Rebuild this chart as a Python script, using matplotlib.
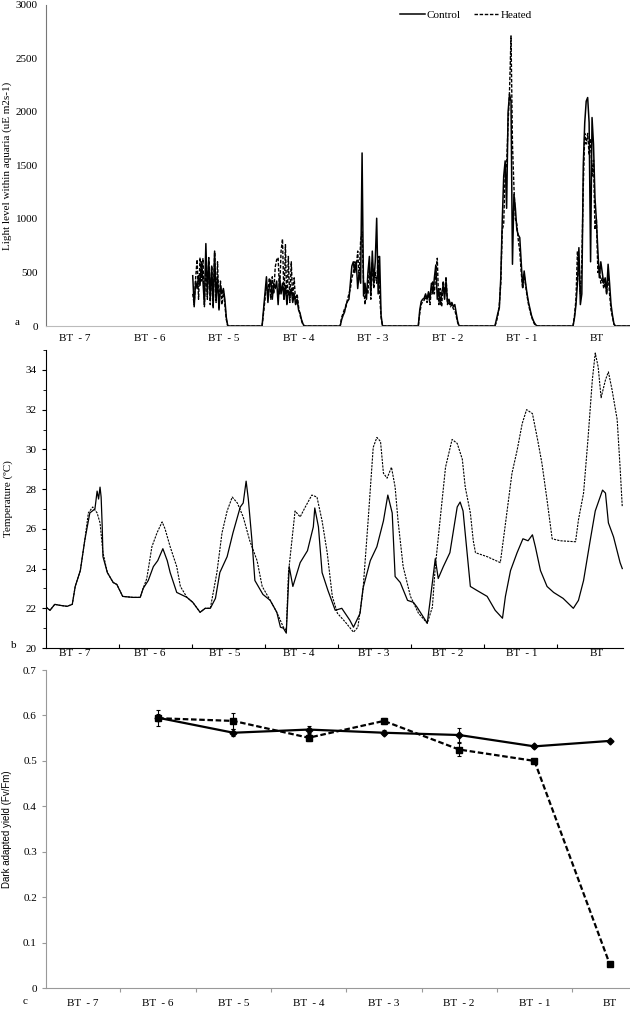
import matplotlib
matplotlib.use("Agg")
import matplotlib.pyplot as plt
import numpy as np

plt.rcParams['font.family'] = ['Liberation Serif', 'DejaVu Serif']

# day labels shared by all panels
days = ['BT  - 7', 'BT  - 6', 'BT  - 5', 'BT  - 4', 'BT  - 3', 'BT  - 2', 'BT  - 1', 'BT']

# ---- panel a: light (time in days from start of record) ----
light_t_bt5 = [2.01, 2.03, 2.05, 2.07, 2.09, 2.11, 2.13, 2.15, 2.17, 2.19, 2.21, 2.23, 2.25, 2.27, 2.29,
               2.31, 2.33, 2.35, 2.37, 2.39, 2.41, 2.43, 2.45, 2.47, 2.49]
light_c_bt5 = [470, 180, 420, 350, 470, 380, 600, 420, 200, 770, 300, 620, 250, 560, 180,
               700, 250, 450, 150, 380, 300, 350, 250, 80, 0]
light_h_bt5 = [300, 200, 450, 620, 250, 640, 420, 630, 180, 600, 250, 640, 200, 560, 170,
               690, 220, 600, 160, 420, 200, 330, 200, 60, 0]

light_t_bt4 = [2.96, 2.98, 3.00, 3.02, 3.04, 3.06, 3.08, 3.10, 3.12, 3.14, 3.16, 3.18, 3.20, 3.22, 3.24,
               3.26, 3.28, 3.30, 3.32, 3.34, 3.36, 3.38, 3.40, 3.42, 3.44, 3.46, 3.48, 3.50, 3.52, 3.54]
light_c_bt4 = [0, 150, 300, 460, 220, 380, 430, 250, 400, 350, 420, 200, 460, 300, 400,
               250, 380, 200, 330, 280, 350, 220, 300, 200, 250, 150, 120, 60, 20, 0]
light_h_bt4 = [0, 120, 250, 380, 300, 450, 250, 460, 300, 550, 620, 640, 300, 700, 813,
               250, 760, 200, 650, 220, 600, 250, 450, 200, 300, 180, 100, 50, 10, 0]

light_t_bt3 = [4.03, 4.05, 4.07, 4.09, 4.11, 4.13, 4.15, 4.17, 4.19, 4.21, 4.23, 4.25, 4.27, 4.29, 4.31,
               4.33, 4.35, 4.37, 4.39, 4.41, 4.43, 4.45, 4.47, 4.49, 4.51, 4.53, 4.55, 4.57, 4.59, 4.61]
light_c_bt3 = [0, 60, 100, 130, 200, 230, 250, 400, 560, 600, 500, 600, 350, 500, 400,
               1617, 280, 400, 250, 500, 650, 300, 700, 400, 600, 1007, 300, 650, 100, 0]
light_h_bt3 = [0, 80, 120, 160, 180, 250, 300, 350, 450, 500, 600, 550, 700, 450, 800,
               880, 400, 200, 350, 300, 550, 250, 600, 350, 500, 400, 650, 300, 80, 0]

light_t_bt2 = [5.10, 5.12, 5.14, 5.16, 5.18, 5.20, 5.22, 5.24, 5.26, 5.28, 5.30, 5.32, 5.34, 5.36, 5.38,
               5.40, 5.42, 5.44, 5.46, 5.48, 5.50, 5.52, 5.54, 5.56, 5.58, 5.60, 5.62, 5.64, 5.66]
light_c_bt2 = [0, 150, 230, 250, 260, 300, 250, 320, 250, 400, 300, 450, 570, 250, 350,
               200, 300, 380, 250, 420, 220, 250, 200, 220, 180, 200, 120, 40, 0]
light_h_bt2 = [0, 120, 200, 230, 240, 280, 220, 300, 200, 350, 420, 300, 500, 633, 200,
               350, 180, 420, 300, 461, 200, 230, 180, 200, 160, 150, 90, 30, 0]

light_t_bt1 = [6.15, 6.17, 6.19, 6.21, 6.23, 6.25, 6.27, 6.29, 6.31, 6.33, 6.35, 6.37, 6.39, 6.41, 6.43,
               6.45, 6.47, 6.49, 6.51, 6.53, 6.55, 6.57, 6.59, 6.61, 6.63, 6.65, 6.67, 6.69, 6.71, 6.73]
light_c_bt1 = [0, 60, 120, 170, 450, 980, 1400, 1543, 1100, 2000, 2166, 2100, 577, 1231, 1100,
               900, 850, 826, 600, 358, 514, 400, 300, 220, 160, 100, 60, 30, 10, 0]
light_h_bt1 = [0, 40, 100, 200, 400, 900, 950, 1450, 1500, 1900, 2200, 2711, 1700, 1300, 1000,
               950, 800, 700, 500, 350, 480, 380, 280, 200, 140, 90, 50, 20, 5, 0]

light_t_bt0 = [7.22, 7.24, 7.26, 7.28, 7.30, 7.32, 7.34, 7.36, 7.38, 7.40, 7.42, 7.44, 7.46, 7.48, 7.50,
               7.52, 7.54, 7.56, 7.58, 7.60, 7.62, 7.64, 7.66, 7.68, 7.70, 7.72, 7.74, 7.76, 7.78, 7.80]
light_c_bt0 = [0, 80, 200, 400, 732, 200, 300, 1500, 1900, 2100, 2135, 1900, 600, 1948, 1700,
               1200, 982, 700, 452, 600, 500, 400, 450, 300, 577, 400, 200, 100, 20, 0]
light_h_bt0 = [0, 100, 250, 700, 500, 300, 600, 1300, 1800, 1700, 1800, 1600, 1750, 1400, 1550,
               900, 1000, 500, 550, 400, 450, 350, 420, 300, 480, 300, 150, 80, 15, 0]

light_t_end = [8.0]
light_v_end = [0]

# ---- panel b: temperature ----
temp_t_ctrl = [0.00, 0.055, 0.12, 0.19, 0.29, 0.36, 0.40, 0.47, 0.53, 0.60, 0.67, 0.70, 0.72, 0.74, 0.755,
               0.77, 0.78, 0.84, 0.92, 0.97, 1.05, 1.19, 1.29, 1.33, 1.40, 1.47, 1.53, 1.60, 1.66, 1.70,
               1.79, 1.93, 2.01, 2.11, 2.18, 2.25, 2.32, 2.38, 2.48, 2.56, 2.66, 2.70, 2.74, 2.77, 2.82,
               2.86, 2.97, 3.07, 3.16, 3.21, 3.25, 3.29, 3.33, 3.38, 3.48, 3.58, 3.66, 3.68, 3.73, 3.78,
               3.86, 3.96, 4.05, 4.16, 4.21, 4.30, 4.34, 4.44, 4.53, 4.62, 4.68, 4.74, 4.78, 4.85, 4.95,
               5.03, 5.08, 5.22, 5.26, 5.33, 5.37, 5.44, 5.53, 5.63, 5.67, 5.71, 5.81, 5.90, 6.04, 6.15,
               6.25, 6.29, 6.36, 6.45, 6.53, 6.60, 6.66, 6.70, 6.77, 6.86, 6.95, 7.08, 7.22, 7.29, 7.36,
               7.45, 7.52, 7.62, 7.66, 7.70, 7.77, 7.86, 7.89]
temp_ctrl = [22.06, 21.9, 22.2, 22.15, 22.1, 22.2, 23.1, 23.9, 25.4, 26.8, 27.0, 27.9, 27.5, 28.1, 27.6,
             26.1, 24.6, 23.8, 23.3, 23.2, 22.6, 22.55, 22.55, 23.0, 23.4, 24.1, 24.4, 25.0, 24.4, 23.8,
             22.8, 22.55, 22.3, 21.8, 22.0, 22.0, 22.5, 23.8, 24.6, 25.8, 27.1, 27.3, 28.4, 27.5, 25.4,
             23.4, 22.7, 22.4, 21.8, 21.05, 21.0, 20.75, 24.1, 23.1, 24.3, 24.9, 26.1, 27.05, 26.1, 23.8,
             22.9, 21.9, 22.0, 21.4, 21.05, 21.75, 23.0, 24.4, 25.1, 26.4, 27.7, 26.8, 23.6, 23.3, 22.4,
             22.3, 22.06, 21.25, 22.4, 24.5, 23.5, 24.1, 24.8, 27.1, 27.35, 26.9, 23.1, 22.9, 22.6, 21.9,
             21.5, 22.6, 23.9, 24.8, 25.5, 25.4, 25.7, 25.1, 23.9, 23.1, 22.8, 22.5, 22.0, 22.4, 23.4,
             25.4, 26.9, 27.95, 27.8, 26.3, 25.6, 24.3, 24.0]

temp_t_heat = [0.00, 0.055, 0.12, 0.19, 0.29, 0.36, 0.40, 0.47, 0.53, 0.58, 0.64, 0.70, 0.74, 0.78, 0.84,
               0.92, 0.97, 1.05, 1.19, 1.29, 1.33, 1.38, 1.45, 1.52, 1.59, 1.63, 1.70, 1.79, 1.84, 1.93,
               2.01, 2.11, 2.18, 2.25, 2.34, 2.41, 2.48, 2.55, 2.62, 2.70, 2.79, 2.89, 2.96, 3.07, 3.16,
               3.25, 3.29, 3.32, 3.41, 3.48, 3.55, 3.64, 3.71, 3.78, 3.85, 3.92, 3.99, 4.10, 4.21, 4.27,
               4.34, 4.41, 4.48, 4.53, 4.58, 4.62, 4.67, 4.73, 4.78, 4.82, 4.89, 4.99, 5.10, 5.22, 5.29,
               5.33, 5.40, 5.47, 5.56, 5.63, 5.70, 5.74, 5.81, 5.85, 5.88, 6.04, 6.22, 6.26, 6.32, 6.38,
               6.45, 6.52, 6.58, 6.66, 6.73, 6.79, 6.86, 6.93, 7.04, 7.25, 7.29, 7.36, 7.42, 7.48, 7.52,
               7.56, 7.60, 7.66, 7.70, 7.75, 7.82, 7.86, 7.89]
temp_heat = [22.06, 21.9, 22.2, 22.15, 22.1, 22.2, 23.1, 23.9, 25.4, 26.8, 27.1, 26.8, 26.3, 24.8, 23.8,
             23.3, 23.2, 22.6, 22.55, 22.55, 23.0, 23.5, 25.1, 25.8, 26.35, 26.0, 25.1, 24.1, 23.1, 22.55,
             22.3, 21.8, 22.0, 22.0, 23.8, 25.8, 26.9, 27.6, 27.3, 26.6, 25.4, 24.4, 23.1, 22.4, 21.8,
             21.05, 20.9, 23.8, 26.9, 26.6, 27.1, 27.7, 27.6, 26.4, 24.8, 22.6, 21.75, 21.3, 20.8, 21.05,
             22.9, 26.4, 30.1, 30.6, 30.4, 28.8, 28.55, 29.1, 28.1, 26.4, 24.1, 22.6, 21.75, 21.25, 22.06,
             24.1, 26.6, 29.1, 30.5, 30.3, 29.5, 28.1, 26.8, 25.4, 24.8, 24.6, 24.3, 25.4, 27.1, 28.8,
             29.95, 31.3, 32.0, 31.8, 30.5, 29.3, 27.45, 25.5, 25.4, 25.35, 26.45, 27.8, 30.5, 33.5, 34.85,
             34.15, 32.6, 33.5, 33.9, 33.0, 31.5, 29.1, 27.1]

# ---- panel c: dark adapted yield (BT-6 .. BT) ----
yield_ctrl = [0.595, 0.562, 0.569, 0.562, 0.557, 0.532, 0.544]
yield_ctrl_err = [0.008, 0.008, 0.008, 0.006, 0.015, 0.003, 0.002]
yield_heat = [0.594, 0.588, 0.551, 0.588, 0.525, 0.500, 0.053]
yield_heat_err = [0.018, 0.018, 0.008, 0.006, 0.015, 0.003, 0.003]

fig = plt.figure(figsize=(6.3, 10.14), dpi=100)
fs = 8
lbl_pos = [0.4 + 1.02 * i for i in range(8)]

# panel a
axa = fig.add_axes([0.073, 0.6785, 0.927, 0.3166])
lt = light_t_bt5 + light_t_bt4 + light_t_bt3 + light_t_bt2 + light_t_bt1 + light_t_bt0 + light_t_end
lc = light_c_bt5 + light_c_bt4 + light_c_bt3 + light_c_bt2 + light_c_bt1 + light_c_bt0 + light_v_end
lh = light_h_bt5 + light_h_bt4 + light_h_bt3 + light_h_bt2 + light_h_bt1 + light_h_bt0 + light_v_end
axa.plot(lt, lc, color='black', lw=1.1, label='Control')
axa.plot(lt, lh, color='black', lw=1.0, ls=(0, (2.5, 1.2)), label='Heated')
axa.set_xlim(0, 8.0)
axa.set_ylim(0, 3000)
axa.set_yticks(np.arange(0, 3001, 500))
axa.set_xticks(lbl_pos)
axa.set_xticklabels(days, fontsize=fs)
axa.tick_params(axis='x', length=0, pad=6)
axa.tick_params(axis='y', length=0, labelsize=fs, pad=6)
for s in ['top', 'right']:
    axa.spines[s].set_visible(False)
axa.spines['left'].set_color('#777777')
axa.spines['bottom'].set_color('#bbbbbb')
axa.set_ylabel('Light level within aquaria (uE m2s-1)', fontsize=fs)
axa.yaxis.set_label_coords(-0.058, 0.5)
fig.legend(loc='upper center', bbox_to_anchor=(0.74, 1.0), ncol=2, frameon=False,
           fontsize=fs, handlelength=2.2, columnspacing=1.2, handletextpad=0.2)

# panel b
axb = fig.add_axes([0.073, 0.3609, 0.9159, 0.2939])
axb.plot(temp_t_ctrl, temp_ctrl, color='black', lw=0.9)
axb.plot(temp_t_heat, temp_heat, color='black', lw=0.8, ls=(0, (2, 1)))
axb.set_xlim(0, 7.9)
axb.set_ylim(20, 35)
axb.set_yticks(np.arange(20, 35, 2))
axb.set_yticks(np.arange(20, 36, 1), minor=True)
axb.set_xticks(range(1, 8))
axb.set_xticklabels([])
axb.set_xticks(lbl_pos, minor=True)
axb.set_xticklabels(days, minor=True, fontsize=fs)
axb.tick_params(axis='x', which='major', direction='in', length=3)
axb.tick_params(axis='x', which='minor', length=0, pad=1)
axb.tick_params(axis='y', which='major', direction='out', length=3, labelsize=fs)
axb.tick_params(axis='y', which='minor', direction='out', length=2)
for s in ['top', 'right']:
    axb.spines[s].set_visible(False)
axb.set_ylabel('Temperature (ºC)', fontsize=fs)
axb.yaxis.set_label_coords(-0.057, 0.5)

# panel c
axc = fig.add_axes([0.073, 0.0256, 0.927, 0.3136])
xc = list(range(1, 8))
axc.errorbar(xc, yield_ctrl, yerr=yield_ctrl_err, color='black', lw=1.6, marker='D', ms=3.5,
             capsize=1.5, elinewidth=0.8, capthick=0.8)
axc.errorbar(xc, yield_heat, yerr=yield_heat_err, color='black', lw=1.6, ls=(0, (2.5, 1.2)),
             marker='s', ms=5, capsize=1.5, elinewidth=0.8, capthick=0.8)
axc.set_xlim(-0.49, 7.27)
axc.set_ylim(0, 0.7)
axc.set_yticks(np.arange(0, 0.71, 0.1))
axc.set_yticklabels(['0', '0.1', '0.2', '0.3', '0.4', '0.5', '0.6', '0.7'])
axc.set_xticks([i + 0.5 for i in range(7)])
axc.set_xticklabels([])
axc.set_xticks(range(8), minor=True)
axc.set_xticklabels(days, minor=True, fontsize=fs)
axc.tick_params(axis='x', which='major', direction='out', length=3, color='#999999')
axc.tick_params(axis='x', which='minor', length=0, pad=8)
axc.tick_params(axis='y', direction='out', length=3, color='#999999', labelsize=fs)
for s in ['top', 'right']:
    axc.spines[s].set_visible(False)
axc.spines['left'].set_color('#999999')
axc.spines['bottom'].set_color('#999999')
axc.set_ylabel('Dark adapted yield (Fv/Fm)', fontsize=7, family=['Liberation Sans', 'DejaVu Sans'])
axc.yaxis.set_label_coords(-0.058, 0.5)

# panel letters
fig.text(0.024, 1 - 322 / 1014, 'a', fontsize=fs, va='center')
fig.text(0.018, 1 - 645 / 1014, 'b', fontsize=fs, va='center')
fig.text(0.036, 1 - 1001 / 1014, 'c', fontsize=fs, va='center')

fig.savefig('out.png', dpi=100)
